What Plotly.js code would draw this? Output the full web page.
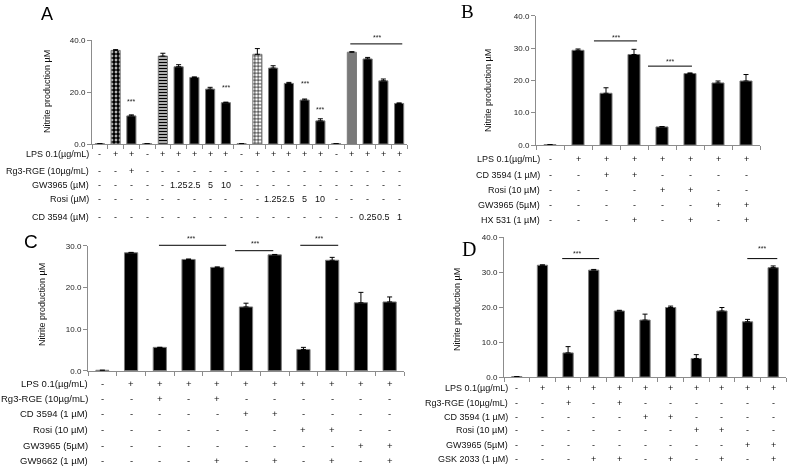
<!DOCTYPE html>
<html>
<head>
<meta charset="utf-8">
<script src="https://cdn.plot.ly/plotly-3.0.1.min.js"></script>
<style>body{margin:0;background:#fff;} #chart{width:788px;height:466px;filter:grayscale(1);}</style>
</head>
<body>
<div id="chart"></div>
<script>
// ---------- data ----------
// Panel A
var aValues = [0.1, 36.0, 10.8, 0.1, 33.8, 29.7, 25.6, 21.1, 15.9, 0.1, 34.5, 29.2, 23.3, 16.9, 8.9, 0.1, 35.3, 32.7, 24.3, 15.6];
var aErrors = [0, 0.3, 0.4, 0, 1.1, 0.8, 0.2, 0.7, 0.2, 0, 2.2, 0.9, 0.4, 0.4, 0.8, 0, 0.2, 0.6, 0.7, 0.2];
var aRowLabels = ['LPS 0.1(µg/mL)', 'Rg3-RGE (10µg/mL)', 'GW3965 (µM)', 'Rosi (µM)', 'CD 3594 (µM)'];
var aLPS  = ['-','+','+','-','+','+','+','+','+','-','+','+','+','+','+','-','+','+','+','+'];
var aRg3  = ['-','-','+','-','-','-','-','-','-','-','-','-','-','-','-','-','-','-','-','-'];
var aGW   = ['-','-','-','-','-','1.25','2.5','5','10','-','-','-','-','-','-','-','-','-','-','-'];
var aRosi = ['-','-','-','-','-','-','-','-','-','-','-','1.25','2.5','5','10','-','-','-','-','-'];
var aCD   = ['-','-','-','-','-','-','-','-','-','-','-','-','-','-','-','-','-','0.25','0.5','1'];
var aStarX = [3, 9, 14, 15, 18.6];
var aStarY = [16.3, 21.8, 23.3, 13.3, 41.0];
var aSigX = [[16.9, 20.2]];
var aSigY = [38.5];

// Panel B
var bValues = [0.1, 29.3, 16.0, 28.0, 5.6, 22.1, 19.2, 19.8];
var bErrors = [0, 0.4, 1.7, 1.6, 0.1, 0.2, 0.6, 2.0];
var bRowLabels = ['LPS 0.1(µg/mL)', 'CD 3594 (1 µM)', 'Rosi (10 µM)', 'GW3965 (5µM)', 'HX 531 (1 µM)'];
var bLPS  = ['-','+','+','+','+','+','+','+'];
var bCD   = ['-','-','+','+','-','-','-','-'];
var bRosi = ['-','-','-','-','+','+','-','-'];
var bGW   = ['-','-','-','-','-','-','+','+'];
var bHX   = ['-','-','-','+','-','+','-','+'];
var bStarX = [3.35, 5.3];
var bStarY = [33.4, 25.7];
var bSigX = [[2.57, 4.11], [4.5, 6.07]];
var bSigY = [32.2, 24.4];

// Panel C
var cValues = [0.1, 28.3, 5.6, 26.7, 24.8, 15.3, 27.8, 5.1, 26.5, 16.3, 16.5];
var cErrors = [0, 0.1, 0, 0.1, 0.1, 0.9, 0.1, 0.5, 0.7, 2.5, 1.2];
var cRowLabels = ['LPS 0.1(µg/mL)', 'Rg3-RGE (10µg/mL)', 'CD 3594 (1 µM)', 'Rosi (10 µM)', 'GW3965 (5µM)', 'GW9662 (1 µM)'];
var cLPS   = ['-','+','+','+','+','+','+','+','+','+','+'];
var cRg3   = ['-','-','+','-','+','-','-','-','-','-','-'];
var cCD    = ['-','-','-','-','-','+','+','-','-','-','-'];
var cRosi  = ['-','-','-','-','-','-','-','+','+','-','-'];
var cGW    = ['-','-','-','-','-','-','-','-','-','+','+'];
var cGW9662= ['-','-','-','-','+','-','+','-','+','-','+'];
var cStarX = [4.1, 6.3, 8.55];
var cStarY = [31.7, 30.5, 31.7];
var cSigX = [[2.97, 5.31], [5.62, 6.95], [7.89, 9.21]];
var cSigY = [30.1, 28.8, 30.1];

// Panel D
var dValues = [0.1, 32.0, 6.9, 30.6, 18.9, 16.3, 19.9, 5.3, 18.9, 15.8, 31.3];
var dErrors = [0, 0.1, 1.8, 0.2, 0.2, 1.7, 0.4, 1.1, 1.0, 0.7, 0.5];
var dRowLabels = ['LPS 0.1(µg/mL)', 'Rg3-RGE (10µg/mL)', 'CD 3594 (1 µM)', 'Rosi (10 µM)', 'GW3965 (5µM)', 'GSK 2033 (1 µM)'];
var dLPS  = ['-','+','+','+','+','+','+','+','+','+','+'];
var dRg3  = ['-','-','+','-','+','-','-','-','-','-','-'];
var dCD   = ['-','-','-','-','-','+','+','-','-','-','-'];
var dRosi = ['-','-','-','-','-','-','-','+','+','-','-'];
var dGW   = ['-','-','-','-','-','-','-','-','-','+','+'];
var dGSK  = ['-','-','-','+','+','-','+','-','+','-','+'];
var dStarX = [3.35, 10.58];
var dStarY = [35.5, 36.8];
var dSigX = [[2.77, 4.21], [9.99, 11.16]];
var dSigY = [33.9, 33.9];

// ---------- geometry (pixels in the 788x466 page) ----------
var W = 788, H = 466;
var FONT = 'Liberation Sans, Arial, sans-serif';
var SERIF = 'Liberation Serif, Times New Roman, serif';
var AXC = '#8c8c8c';

var gA = {xa: 'x',  ya: 'y',  x0: 92,  x1: 407, n: 20, yb: 144,   yt: 40,    top: 40, dtick: 20};
var gB = {xa: 'x2', ya: 'y2', x0: 536, x1: 760, n: 8,  yb: 145,   yt: 15.7,  top: 40, dtick: 10};
var gC = {xa: 'x3', ya: 'y3', x0: 88,  x1: 404, n: 11, yb: 370.7, yt: 245.7, top: 30, dtick: 10};
var gD = {xa: 'x4', ya: 'y4', x0: 504, x1: 786, n: 11, yb: 377,   yt: 237.3, top: 40, dtick: 10};

function px(x){ return x / W; }
function py(y){ return 1 - y / H; }
// category position / value -> paper coordinates
function catX(g, c){ return px(g.x0 + (c - 0.5) * (g.x1 - g.x0) / g.n); }
function valY(g, v){ return py(g.yb - v * (g.yb - g.yt) / g.top); }

function barTrace(g, values, errors, width, patterns){
  var tr = {
    type: 'bar',
    x: values.map(function(v, i){ return i + 1; }),
    y: values,
    xaxis: g.xa, yaxis: g.ya,
    width: width,
    marker: {color: 'black', line: {color: '#7a7a7a', width: 1}},
    error_y: {type: 'data', symmetric: false, array: errors,
              arrayminus: errors.map(function(){ return 0; }),
              color: 'black', thickness: 1, width: 2.5},
    hoverinfo: 'none'
  };
  if (patterns){
    tr.marker.pattern = patterns;
  }
  return tr;
}

var shapes = [];
function addSig(g, sx, sy){
  for (var i = 0; i < sx.length; i++){
    shapes.push({type: 'line', xref: 'paper', yref: 'paper',
      x0: catX(g, sx[i][0]), x1: catX(g, sx[i][1]),
      y0: valY(g, sy[i]), y1: valY(g, sy[i]),
      line: {color: 'black', width: 1}});
  }
}

var annotations = [];
function addStars(g, xs, ys){
  for (var i = 0; i < xs.length; i++){
    annotations.push({xref: 'paper', yref: 'paper', x: catX(g, xs[i]), y: valY(g, ys[i]),
      xanchor: 'center', yanchor: 'middle', text: '***',
      showarrow: false, font: {family: FONT, size: 7, color: '#222'}});
  }
}
function addRows(g, labels, rows, rowYs, labelRight, fsize){
  for (var r = 0; r < labels.length; r++){
    annotations.push({xref: 'paper', yref: 'paper', x: px(labelRight), y: py(rowYs[r]),
      xanchor: 'right', yanchor: 'middle', text: labels[r], showarrow: false,
      font: {family: FONT, size: fsize, color: '#111'}});
    for (var i = 0; i < rows[r].length; i++){
      annotations.push({xref: 'paper', yref: 'paper', x: catX(g, i + 1), y: py(rowYs[r]),
        xanchor: 'center', yanchor: 'middle', text: rows[r][i], showarrow: false,
        font: {family: FONT, size: fsize, color: '#111'}});
    }
  }
}
function addYTitle(xc, yc){
  annotations.push({xref: 'paper', yref: 'paper', x: px(xc), y: py(yc), textangle: -90,
    xanchor: 'center', yanchor: 'middle',
    text: 'Nitrite production µM', showarrow: false,
    font: {family: FONT, size: 9, color: '#111'}});
}
function addLetter(t, xc, yc, fam, size){
  annotations.push({xref: 'paper', yref: 'paper', x: px(xc), y: py(yc), text: t,
    xanchor: 'center', yanchor: 'middle',
    showarrow: false, font: {family: fam, size: size, color: '#000'}});
}

function xAxis(g){
  var tv = [];
  for (var i = 0; i <= g.n; i++) tv.push(i + 0.5);
  return {domain: [px(g.x0), px(g.x1)], range: [0.5, g.n + 0.5], anchor: g.ya,
    tickvals: tv, showticklabels: false, ticks: 'outside', ticklen: 4,
    tickcolor: AXC, showline: true, linecolor: AXC, linewidth: 1,
    showgrid: false, zeroline: false, fixedrange: true};
}
function yAxis(g){
  return {domain: [py(g.yb), py(g.yt)], range: [0, g.top], anchor: g.xa, dtick: g.dtick,
    tickformat: '.1f', ticks: 'outside', ticklen: 4, tickcolor: AXC,
    showline: true, linecolor: AXC, linewidth: 1, showgrid: false, zeroline: false,
    tickfont: {family: FONT, size: 8, color: '#222'}, fixedrange: true};
}

// ---------- patterns for panel A (first LPS bar of each group) ----------
var aShape = aValues.map(function(){ return ''; });
var aFg = aValues.map(function(){ return 'black'; });
var aBg = aValues.map(function(){ return 'black'; });
var aSize = aValues.map(function(){ return 4; });
var aSol = aValues.map(function(){ return 0.5; });
aShape[1] = '.';  aBg[1] = 'white'; aSize[1] = 4; aSol[1] = 0.75;
aShape[4] = '-';  aBg[4] = 'white'; aSize[4] = 3; aSol[4] = 0.55;
aShape[10] = '+'; aBg[10] = 'white'; aSize[10] = 3.5; aSol[10] = 0.35;
aShape[16] = '.'; aBg[16] = '#b0b0b0'; aFg[16] = '#333'; aSize[16] = 2; aSol[16] = 0.5;
var aPattern = {shape: aShape, fgcolor: aFg, bgcolor: aBg, size: aSize, solidity: aSol, fillmode: 'replace'};

// ---------- traces ----------
var data = [
  barTrace(gA, aValues, aErrors, 0.58, aPattern),
  barTrace(gB, bValues, bErrors, 0.43),
  barTrace(gC, cValues, cErrors, 0.46),
  barTrace(gD, dValues, dErrors, 0.4)
];

addSig(gA, aSigX, aSigY);
addSig(gB, bSigX, bSigY);
addSig(gC, cSigX, cSigY);
addSig(gD, dSigX, dSigY);

addStars(gA, aStarX, aStarY);
addStars(gB, bStarX, bStarY);
addStars(gC, cStarX, cStarY);
addStars(gD, dStarX, dStarY);

addRows(gA, aRowLabels, [aLPS, aRg3, aGW, aRosi, aCD], [154, 170.5, 185, 199, 217], 91, 9);
addRows(gB, bRowLabels, [bLPS, bCD, bRosi, bGW, bHX], [159, 175, 190, 205, 220], 542, 9);
addRows(gC, cRowLabels, [cLPS, cRg3, cCD, cRosi, cGW, cGW9662], [383, 398, 413.5, 429, 445, 460], 90, 9.5);
addRows(gD, dRowLabels, [dLPS, dRg3, dCD, dRosi, dGW, dGSK], [388, 402.5, 416.5, 430, 444.5, 459], 510, 9);

addYTitle(47, 92);
addYTitle(488, 91);
addYTitle(42, 305);
addYTitle(457, 310);

addLetter('A', 47, 14, FONT, 18);
addLetter('B', 467, 11, SERIF, 19);
addLetter('C', 31, 241, FONT, 19);
addLetter('D', 469, 249, SERIF, 20);

var layout = {
  width: W, height: H,
  margin: {l: 0, r: 0, t: 0, b: 0},
  paper_bgcolor: 'white', plot_bgcolor: 'white',
  showlegend: false,
  font: {family: FONT, color: '#111'},
  xaxis:  xAxis(gA), yaxis:  yAxis(gA),
  xaxis2: xAxis(gB), yaxis2: yAxis(gB),
  xaxis3: xAxis(gC), yaxis3: yAxis(gC),
  xaxis4: xAxis(gD), yaxis4: yAxis(gD),
  shapes: shapes,
  annotations: annotations
};

Plotly.newPlot('chart', data, layout, {displayModeBar: false, staticPlot: true});
</script>
</body>
</html>
